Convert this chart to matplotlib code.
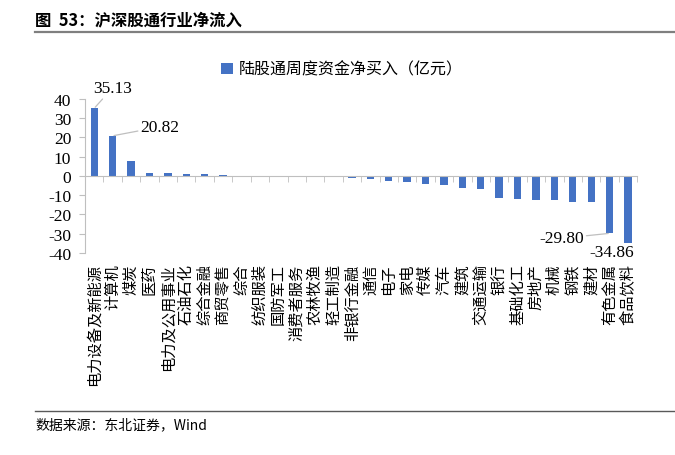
import numpy as np
import matplotlib.pyplot as plt
from matplotlib.lines import Line2D

# Industry net inflow via Stock Connect (weekly, 100m CNY)
industries = ['电力设备及新能源', '计算机', '煤炭', '医药', '电力及公用事业', '石油石化',
              '综合金融', '商贸零售', '综合', '纺织服装', '国防军工', '消费者服务',
              '农林牧渔', '轻工制造', '非银行金融', '通信', '电子', '家电', '传媒',
              '汽车', '建筑', '交通运输', '银行', '基础化工', '房地产', '机械',
              '钢铁', '建材', '有色金属', '食品饮料']
net_buy = [35.13, 20.82, 8.0, 1.6, 1.4, 1.2,
           0.9, 0.5, 0.1, 0.05, 0.0, -0.05,
           -0.6, -0.7, -1.05, -1.4, -2.8, -3.3, -4.0,
           -4.7, -6.3, -6.6, -11.2, -12.0, -12.6, -12.7,
           -13.6, -13.6, -29.80, -34.86]
series_name = '陆股通周度资金净买入（亿元）'
yticks = [-40, -30, -20, -10, 0, 10, 20, 30, 40]

cjk = ['Noto Sans CJK SC', 'DejaVu Sans']
serif = ['Liberation Serif', 'DejaVu Serif']
blue = '#4472C4'
gray = '#BFBFBF'

fig = plt.figure(figsize=(6.75, 4.56), dpi=100)
ax = fig.add_axes([0.126, 0.443, 0.818, 0.338])

x = np.arange(len(industries))
bars = ax.bar(x, net_buy, width=0.4, color=blue, label=series_name, zorder=2)

ax.set_xlim(-0.5, len(industries) - 0.5)
ax.set_ylim(-40, 40)
ax.set_yticks(yticks)
ax.set_yticklabels([str(v) for v in yticks], fontfamily=serif, fontsize=12.5)
ax.tick_params(axis='y', direction='out', length=4, color=gray, pad=6)

# x axis sits on zero, ticks between categories, labels pushed to bottom
ax.spines['bottom'].set_position(('data', 0))
ax.spines['bottom'].set_color(gray)
ax.spines['left'].set_color(gray)
ax.spines['top'].set_visible(False)
ax.spines['right'].set_visible(False)
ax.set_xticks(x)
ax.set_xticklabels(industries, rotation=90, fontfamily=cjk, fontsize=11, va='top')
ax.set_xticks(np.arange(len(industries) + 1) - 0.5, minor=True)
ax.tick_params(axis='x', which='major', length=0, pad=63)
ax.tick_params(axis='x', which='minor', direction='out', length=4, color=gray)

# data labels with leader lines
lbl = dict(fontfamily=serif, fontsize=12.5, textcoords='offset pixels',
           arrowprops=dict(arrowstyle='-', color=gray, lw=0.9, shrinkA=0, shrinkB=1))
ax.annotate(f'{net_buy[0]:.2f}', (x[0], net_buy[0]), xytext=(18, 20),
            ha='center', va='center', **lbl)
ax.annotate(f'{net_buy[1]:.2f}', (x[1], net_buy[1]), xytext=(28, 9),
            ha='left', va='center', **lbl)
ax.annotate(f'{net_buy[-2]:.2f}', (x[-2], net_buy[-2]), xytext=(-26, -5),
            ha='right', va='center', **lbl)
ax.annotate(f'{net_buy[-1]:.2f}', (x[-1], net_buy[-1]), xytext=(-16, -1),
            ha='center', va='top', fontfamily=serif, fontsize=12.5,
            textcoords='offset pixels')

fig.legend(handles=[bars], labels=[series_name], loc='center',
           bbox_to_anchor=(0.507, 0.846), frameon=False, prop={'family': cjk, 'size': 11.5},
           handlelength=0.7, handleheight=0.7, handletextpad=0.4)

# header and footer
fig.text(0.052, 0.955, '图  53：沪深股通行业净流入', fontfamily=cjk, fontsize=11.8,
         fontweight='bold', va='center', ha='left')
fig.add_artist(Line2D([0.052, 1.0], [0.927, 0.927], color='#7F7F7F', lw=1.6))
fig.add_artist(Line2D([0.052, 1.0], [0.097, 0.097], color='#595959', lw=1.0))
fig.text(0.052, 0.068, '数据来源：东北证券，Wind', fontfamily=cjk, fontsize=10,
         va='center', ha='left')

fig.savefig('out.png', dpi=100)
